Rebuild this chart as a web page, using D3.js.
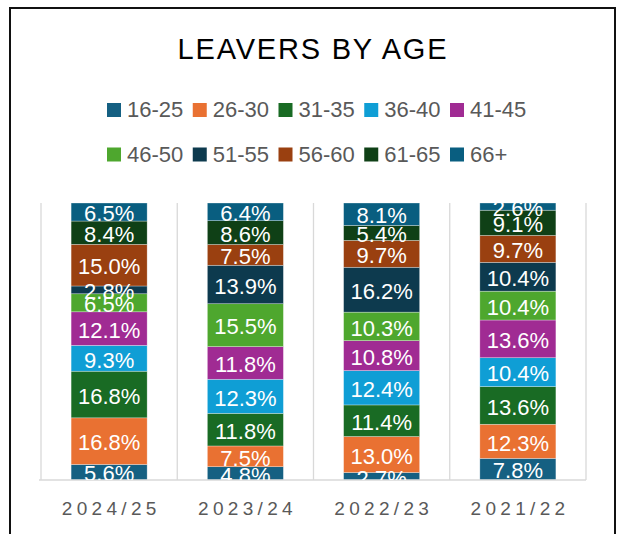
<!DOCTYPE html>
<html>
<head>
<meta charset="utf-8">
<script src="https://cdn.jsdelivr.net/npm/d3@7"></script>
<style>
  html, body { margin: 0; padding: 0; background: #fff; }
  svg { display: block; font-family: "Liberation Sans", Arial, sans-serif; }
</style>
</head>
<body>
<svg id="chart" width="619" height="534"></svg>
<script>
const categories = ["2024/25", "2023/24", "2022/23", "2021/22"];
const seriesNames = ["16-25", "26-30", "31-35", "36-40", "41-45", "46-50", "51-55", "56-60", "61-65", "66+"];
const s16_25 = [5.6, 4.8, 2.7, 7.8];
const s26_30 = [16.8, 7.5, 13.0, 12.3];
const s31_35 = [16.8, 11.8, 11.4, 13.6];
const s36_40 = [9.3, 12.3, 12.4, 10.4];
const s41_45 = [12.1, 11.8, 10.8, 13.6];
const s46_50 = [6.5, 15.5, 10.3, 10.4];
const s51_55 = [2.8, 13.9, 16.2, 10.4];
const s56_60 = [15.0, 7.5, 9.7, 9.7];
const s61_65 = [8.4, 8.6, 5.4, 9.1];
const s66p = [6.5, 6.4, 8.1, 2.6];
const seriesValues = [s16_25, s26_30, s31_35, s36_40, s41_45, s46_50, s51_55, s56_60, s61_65, s66p];
const colors = ["#156082", "#E97132", "#196B24", "#0F9ED5", "#A02B93", "#4EA72E", "#0D3A4E", "#9A4010", "#0F4016", "#095E80"];

(function () {
const svg = d3.select("#chart");

// outer frame
svg.append("rect").attr("x", 10).attr("y", 8).attr("width", 605).attr("height", 560)
  .attr("fill", "#fff").attr("stroke", "#111").attr("stroke-width", 2);

// title
svg.append("text").attr("x", 313).attr("y", 59).attr("text-anchor", "middle")
  .attr("font-size", 29).attr("letter-spacing", "1.8px").attr("fill", "#000")
  .text("LEAVERS BY AGE");

// legend
const legend = svg.append("g");
seriesNames.forEach((name, i) => {
  const row = Math.floor(i / 5), col = i % 5;
  const lx = 107 + col * 85.75;
  const yb = 117 + row * 44.5;
  legend.append("rect").attr("x", lx).attr("y", yb - 14).attr("width", 14).attr("height", 14)
    .attr("fill", colors[i]);
  legend.append("text").attr("x", lx + 20).attr("y", yb).attr("font-size", 22)
    .attr("fill", "#595959").text(name);
});

// plot
const pLeft = 41, pRight = 586, pTop = 203, pBottom = 480;
const x = d3.scaleBand().domain(categories).range([pLeft, pRight]).padding(0);
const y = d3.scaleLinear().domain([0, 1]).range([pBottom, pTop]);
const barW = x.bandwidth() * 0.558;

const rows = categories.map((c, j) => {
  const o = { cat: c };
  seriesNames.forEach((s, i) => { o[s] = seriesValues[i][j]; });
  return o;
});
const stacked = d3.stack().keys(seriesNames).offset(d3.stackOffsetExpand)(rows);

// gridlines (category)
const grid = svg.append("g");
categories.map(c => x(c)).concat([pRight]).forEach(b => {
  grid.append("line").attr("x1", b).attr("x2", b).attr("y1", pTop).attr("y2", pBottom)
    .attr("stroke", "#d9d9d9").attr("stroke-width", 1.3);
});

svg.append("defs").append("clipPath").attr("id", "plotclip")
  .append("rect").attr("x", pLeft).attr("y", pTop).attr("width", pRight - pLeft).attr("height", pBottom - pTop);

const bars = svg.append("g").attr("clip-path", "url(#plotclip)");
stacked.forEach((layer, i) => {
  bars.selectAll(null).data(layer).enter().append("rect")
    .attr("x", d => x(d.data.cat) + (x.bandwidth() - barW) / 2)
    .attr("y", d => y(d[1]))
    .attr("width", barW)
    .attr("height", d => y(d[0]) - y(d[1]))
    .attr("fill", colors[i])
    .attr("stroke", "#ffffff").attr("stroke-opacity", 0.5).attr("stroke-width", 0.6);
});

// baseline
svg.append("line").attr("x1", pLeft - 2).attr("x2", pRight).attr("y1", pBottom).attr("y2", pBottom)
  .attr("stroke", "#d9d9d9").attr("stroke-width", 1.3);

// labels
const labels = svg.append("g").attr("clip-path", "url(#plotclip)");
stacked.forEach((layer) => {
  labels.selectAll(null).data(layer).enter().append("text")
    .attr("x", d => x(d.data.cat) + x.bandwidth() / 2)
    .attr("y", d => (y(d[0]) + y(d[1])) / 2)
    .attr("dy", "0.42em")
    .attr("text-anchor", "middle")
    .attr("font-size", 22)
    .attr("fill", "#fff")
    .text(d => d.data[layer.key].toFixed(1) + "%");
});

// axis labels
const xAxis = svg.append("g").attr("transform", `translate(0,${pBottom})`)
  .call(d3.axisBottom(x).tickSize(0).tickPadding(0));
xAxis.select(".domain").remove();
xAxis.selectAll("text")
  .attr("y", 35)
  .attr("dy", 0)
  .attr("dx", "2.1px")
  .attr("font-size", 19)
  .attr("letter-spacing", "4.3px")
  .attr("fill", "#595959")
  .attr("font-family", "Liberation Sans, Arial, sans-serif");
})();
</script>
</body>
</html>
